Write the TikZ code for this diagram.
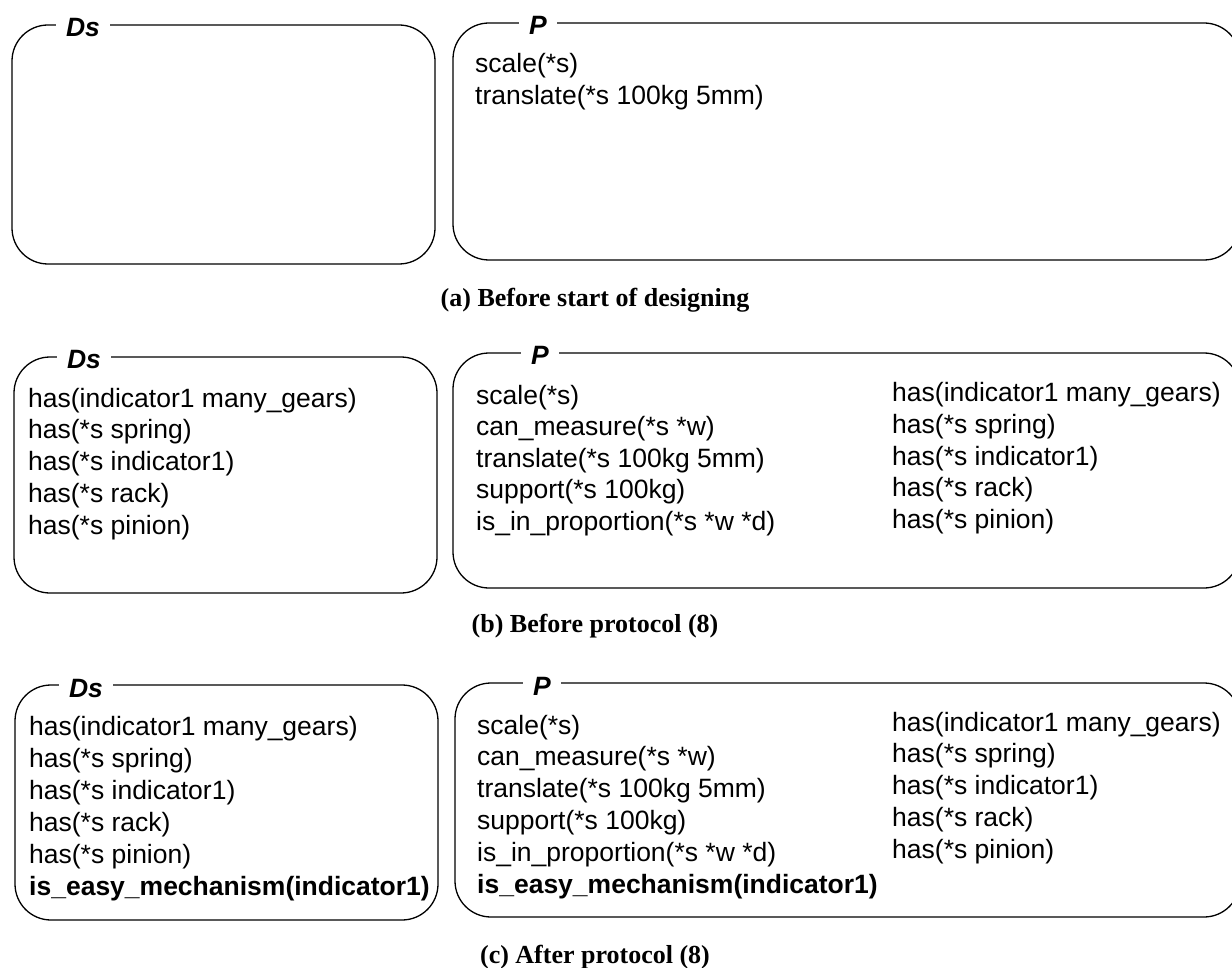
\documentclass[tikz,border=0pt]{standalone}
\usepackage{fontspec}
\setmainfont{Liberation Serif}
\setsansfont{Liberation Sans}

\tikzset{
  panel/.style={draw, line width=1.3pt, rounded corners=36pt},
  title/.style={fill=white, inner xsep=10pt, inner ysep=0pt, anchor=base,
    font=\sffamily\bfseries\itshape\fontsize{26.5}{26.5}\selectfont},
  fact/.style={anchor=base west, inner sep=0pt,
    font=\sffamily\fontsize{26.5}{26.5}\selectfont},
  keyfact/.style={anchor=base west, inner sep=0pt,
    font=\sffamily\bfseries\fontsize{26.5}{26.5}\selectfont},
  caption/.style={anchor=base, inner sep=0pt,
    font=\rmfamily\bfseries\fontsize{26}{26}\selectfont},
}

\begin{document}
\begin{tikzpicture}[x=1pt, y=-1pt]
\useasboundingbox (0,0) rectangle (1232,968);
\clip (0,0) rectangle (1232,968);

% ---------- (a) Before start of designing ----------
\draw[panel] (12,25) rectangle (435,264);
\node[title] (dsAt) at (83,37) {Ds};
\draw[panel] (453,23) rectangle (1240,260);
\node[title] (pAt) at (538,35) {P};
\foreach \t [count=\i] in {scale(*s), translate(*s 100kg 5mm)}
  \node[fact] (pA\i) at (475,{73+32*(\i-1)}) {\t};
\node[caption] (capA) at (595,307) {(a) Before start of designing};

% ---------- (b) Before protocol (8) ----------
\draw[panel] (14,357) rectangle (437,593);
\node[title] (dsBt) at (84,369) {Ds};
\foreach \t [count=\i] in {has(indicator1 many\_gears), has(*s spring),
    has(*s indicator1), has(*s rack), has(*s pinion)}
  \node[fact] (dsB\i) at (28,{407+31.8*(\i-1)}) {\t};
\draw[panel] (453,353) rectangle (1240,588);
\node[title] (pBt) at (540,365) {P};
\foreach \t [count=\i] in {scale(*s), can\_measure(*s *w),
    translate(*s 100kg 5mm), support(*s 100kg), is\_in\_proportion(*s *w *d)}
  \node[fact] (pB\i) at (476,{404+31.6*(\i-1)}) {\t};
\foreach \t [count=\i] in {has(indicator1 many\_gears), has(*s spring),
    has(*s indicator1), has(*s rack), has(*s pinion)}
  \node[fact] (pBr\i) at (892,{402+31.6*(\i-1)}) {\t};
\node[caption] (capB) at (595,632) {(b) Before protocol (8)};

% ---------- (c) After protocol (8) ----------
\draw[panel] (15,685) rectangle (438,920);
\node[title] (dsCt) at (86,697) {Ds};
\foreach \t [count=\i] in {has(indicator1 many\_gears), has(*s spring),
    has(*s indicator1), has(*s rack), has(*s pinion)}
  \node[fact] (dsC\i) at (29,{735+32*(\i-1)}) {\t};
\node[keyfact] (dsC6) at (29,895) {is\_easy\_mechanism(indicator1)};
\draw[panel] (455,683) rectangle (1240,917);
\node[title] (pCt) at (542,695) {P};
\foreach \t [count=\i] in {scale(*s), can\_measure(*s *w),
    translate(*s 100kg 5mm), support(*s 100kg), is\_in\_proportion(*s *w *d)}
  \node[fact] (pC\i) at (477,{734+31.8*(\i-1)}) {\t};
\node[keyfact] (pC6) at (477,893) {is\_easy\_mechanism(indicator1)};
\foreach \t [count=\i] in {has(indicator1 many\_gears), has(*s spring),
    has(*s indicator1), has(*s rack), has(*s pinion)}
  \node[fact] (pCr\i) at (892,{731+31.8*(\i-1)}) {\t};
\node[caption] (capC) at (595,963) {(c) After protocol (8)};
\end{tikzpicture}
\end{document}
